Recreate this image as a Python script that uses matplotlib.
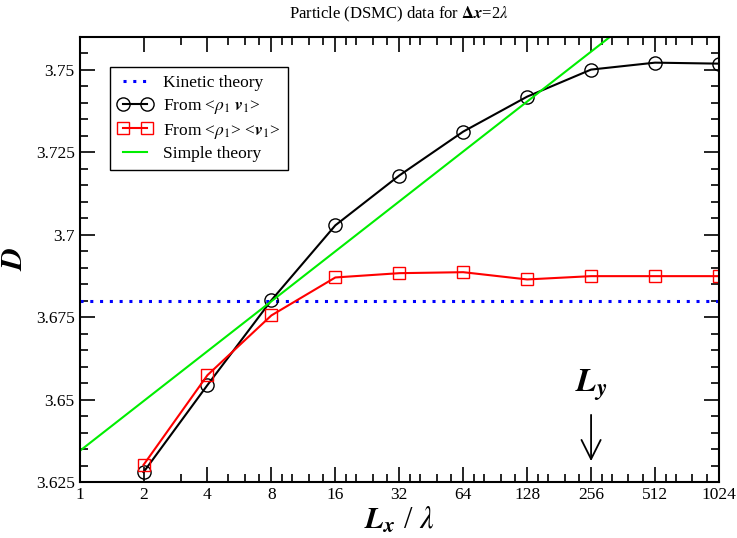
import numpy as np
import matplotlib
matplotlib.use('Agg')
import matplotlib.pyplot as plt
from matplotlib.ticker import FixedLocator, NullFormatter

plt.rcParams['font.family'] = ['Liberation Serif', 'DejaVu Serif']
plt.rcParams['mathtext.fontset'] = 'stix'

# Data
lx = [2, 4, 8, 16, 32, 64, 128, 256, 512, 1024]
d_rho_v = [3.628, 3.6544, 3.6801, 3.7028, 3.7179, 3.7312, 3.7418, 3.7500, 3.7521, 3.7518]
d_rho_avg_v = [3.6302, 3.6574, 3.6755, 3.6870, 3.6883, 3.6886, 3.6864, 3.6874, 3.6874, 3.6874]
kinetic_d = 3.6798
simple_x = [1, 1024]
simple_d = [3.6344, 3.7857]

fig, ax = plt.subplots(figsize=(7.37, 5.38), dpi=100)
fig.subplots_adjust(left=0.108, right=0.9755, top=0.932, bottom=0.104)

ax.axhline(kinetic_d, color='#0000ff', linestyle=(0, (1, 2.2)), lw=2.2, label='Kinetic theory')
ax.plot(lx, d_rho_v, color='black', lw=1.5, marker='o', ms=9.5, mfc='none', mec='black', mew=1.0,
        label=r'From <$\rho_1\ \mathbfit{v}_1$>')
ax.plot(lx, d_rho_avg_v, color='red', lw=1.5, marker='s', ms=8.5, mfc='none', mec='red', mew=1.0,
        label=r'From <$\rho_1$> <$\mathbfit{v}_1$>')
ax.plot(simple_x, simple_d, color='#00ee00', lw=1.5, label='Simple theory')

ax.set_xscale('log', base=2)
ax.set_xlim(1, 1024)
ax.set_ylim(3.625, 3.76)
majors = [2 ** k for k in range(11)]
ax.xaxis.set_major_locator(FixedLocator(majors))
ax.set_xticklabels([str(m) for m in majors])
minors = [3, 5, 6, 7]
for k in range(3, 10):
    a = 2 ** k
    minors += [a * f for f in (1.125, 1.25, 1.5, 1.75)]
ax.xaxis.set_minor_locator(FixedLocator(minors))
ax.xaxis.set_minor_formatter(NullFormatter())
ax.set_yticks([3.625, 3.65, 3.675, 3.7, 3.725, 3.75])
ax.set_yticklabels(['3.625', '3.65', '3.675', '3.7', '3.725', '3.75'])
ax.yaxis.set_minor_locator(FixedLocator(np.arange(3.625, 3.7601, 0.005)))

ax.tick_params(which='both', direction='in', top=True, right=True, labelsize=12.5, width=1.2)
ax.tick_params(which='major', length=11)
ax.tick_params(which='minor', length=6)
for s in ax.spines.values():
    s.set_linewidth(1.5)

ax.set_title(r'Particle (DSMC) data for $\mathbf{\Delta}\mathbfit{x}$=2$\lambda$', fontsize=12, pad=13)
ax.set_xlabel(r'$\mathbfit{L}_{\mathbfit{x}}$ / $\lambda$', fontsize=22, labelpad=2)
ax.set_ylabel(r'$\mathbfit{D}$', fontsize=22, labelpad=5)

# L_y marker arrow
ax.annotate('', xy=(256, 3.6305), xytext=(256, 3.6462),
            arrowprops=dict(arrowstyle='->, head_length=0.6, head_width=0.3', color='black',
                            lw=1.3, mutation_scale=23))
ax.text(256, 3.6545, r'$\mathbfit{L}_{\mathbfit{y}}$', fontsize=24, ha='center', va='center')

leg = ax.legend(loc='upper left', bbox_to_anchor=(0.034, 0.951), fontsize=12.5, frameon=True,
                fancybox=False, edgecolor='black', handlelength=2.0, borderpad=0.45,
                labelspacing=0.33, handletextpad=0.6, numpoints=2, framealpha=1)
leg.get_frame().set_linewidth(1.0)

fig.savefig('out.png', dpi=100)
